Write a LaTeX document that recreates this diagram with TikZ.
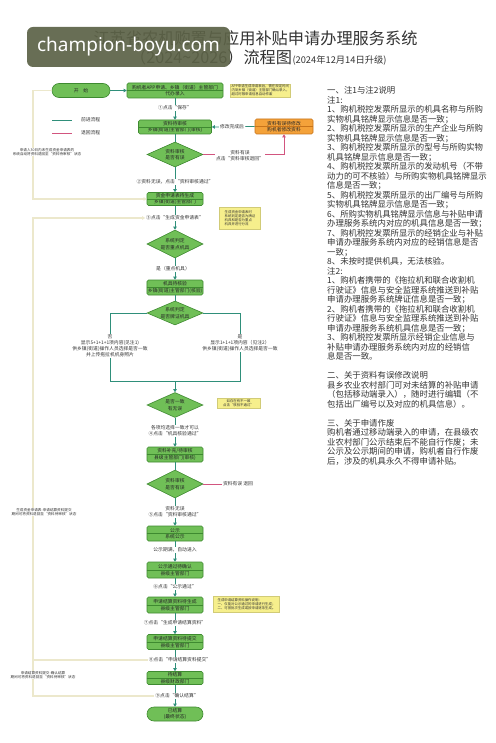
\documentclass[tikz,border=0pt]{standalone}
\usepackage{fontspec}
\newfontfamily\cjk{Noto Sans CJK SC}
\newfontfamily\wmfont{Noto Sans}
\usetikzlibrary{shapes.geometric,arrows.meta}
\definecolor{gfill}{HTML}{70BF57}
\definecolor{gline}{HTML}{3E8A30}
\definecolor{flowc}{HTML}{2F8F7A}
\definecolor{backc}{HTML}{D2557F}
\definecolor{ofill}{HTML}{F4A23A}
\definecolor{oline}{HTML}{C8741A}
\definecolor{noteY}{HTML}{F6EF8C}
\definecolor{pale}{HTML}{ECE8CC}
\definecolor{txt}{HTML}{333333}
\definecolor{wm}{HTML}{5C6247}
\tikzset{
  gbox/.style={draw=gline, fill=gfill, rounded corners=1.5pt, line width=0.6pt, minimum width=56pt, inner sep=0.8pt, align=center, font=\cjk\fontsize{4.8}{6.4}\selectfont, text=black!85},
  term/.style={gbox, rounded corners=7pt},
  gdia/.style={diamond, draw=gline, fill=gfill, line width=0.6pt, minimum width=56pt, minimum height=25pt, inner sep=0pt, aspect=2.2, align=center, font=\cjk\fontsize{4.8}{6.4}\selectfont, text=black!85},
  obox/.style={draw=oline, fill=ofill, rounded corners=1.5pt, line width=0.6pt, minimum width=58pt, minimum height=15pt, inner sep=0.8pt, align=center, font=\cjk\fontsize{4.8}{6.4}\selectfont, text=black!85},
  lbl/.style={fill=white, inner sep=0.8pt, align=center, font=\cjk\fontsize{4.8}{6}\selectfont, text=txt},
  sidelbl/.style={fill=white, inner sep=0.6pt, align=center, font=\cjk\fontsize{3.6}{4.4}\selectfont, text=txt},
  note/.style={fill=noteY, draw=noteY!85!black, line width=0.3pt, inner sep=1pt, align=left, font=\cjk\fontsize{3.4}{4.1}\selectfont, text=txt},
  flow/.style={draw=flowc, line width=0.7pt, -{Triangle[length=3pt,width=3.4pt]}},
  flowline/.style={draw=flowc, line width=0.7pt},
  back/.style={draw=backc, line width=0.7pt},
  loopl/.style={draw=pale, line width=1.2pt},
}
\begin{document}
\begin{tikzpicture}[x=1pt,y=-1pt]
\fill[white] (0,0) rectangle (495,743);
\useasboundingbox (0,0) rectangle (495,743);

% title
\node[font=\cjk\fontsize{16.2}{18}\selectfont, text=txt, inner sep=0] (t1) at (255.5,38) {江苏省农机购置与应用补贴申请办理服务系统};
\node[font=\cjk\fontsize{16.2}{18}\selectfont, text=txt, inner sep=0, anchor=base west] (t2) at (130,64) {（2024\textasciitilde 2026）流程图};
\node[font=\cjk\fontsize{9.3}{11}\selectfont, text=txt, inner sep=0, anchor=base west] (t3) at (t2.base east) {(2024年12月14日升级)};

% watermark
\node[fill=wm, fill opacity=0.92, text opacity=1, rounded corners=6pt, minimum width=203pt, minimum height=40pt, inner sep=0, text=white, font=\wmfont\fontsize{19}{22}\selectfont] (wmk) at (128.5,47) {champion-boyu.com};

% legend
\coordinate (lg1a) at (52,120); \coordinate (lg1b) at (72,120);
\coordinate (lg2a) at (52,133); \coordinate (lg2b) at (72,133);
\draw[flowline] (lg1a) -- (lg1b);
\draw[back] (lg2a) -- (lg2b);
\node[lbl, anchor=west] (lgt1) at (80,120) {前进流程};
\node[lbl, anchor=west] (lgt2) at (80,133) {退回流程};

% main nodes
\node[term, minimum width=58pt, minimum height=14pt] (start) at (81,90.5) {开\quad 始};
\node[gbox, minimum width=96pt, minimum height=15pt] (b1) at (175,90.5) {购机者APP申请、乡镇（街道）主管部门\\代办录入};
\node[note, minimum width=57pt, minimum height=13pt] (n1) at (260.5,90.5) {APP申请生成申请表后，需在规定时间\\内到乡镇（街道）主管部门确认录入，\\超过时限申请信息自动作废};

\node[gbox, minimum width=73pt, minimum height=14pt] (b2) at (175,127) {资料待审核\\乡镇(街道)主管部门(审核)};
\node[obox] (ob) at (284,126.5) {资料有误待修改\\购机者修改资料};
\node[gdia] (d1) at (175,154.5) {资料审核\\是否有误};
\node[gbox, minimum height=13pt] (b3) at (175,199) {资金申请表待生成\\乡镇(街道)主管部门};
\node[note, minimum width=41pt, minimum height=22pt] (n2) at (240,218) {生成资金申请表时\\系统判定是否为牌证\\机具和是否为重点\\机具并进行分流};
\node[gdia, minimum height=28pt] (d2) at (175,244) {系统判定\\是否重点机具};
\node[gbox, minimum height=15pt] (b4) at (175,287.5) {机具待核验\\乡镇(街道)主管部门(核验)};
\node[gdia, minimum height=24pt] (d3) at (175,313) {系统判定\\是否牌证机具};
\node[gdia, minimum height=25pt] (d4) at (175,405) {是否一致\\有无误};
\node[note, minimum width=43pt, minimum height=10pt, align=center] (n3) at (238.5,403) {如存在有不一致\\点击“核验不通过”};
\node[gbox, minimum height=15pt] (b5) at (175,454.5) {资料补充/待审核\\县级主管部门(审核)};
\node[gdia, minimum height=28pt] (d5) at (175,484) {资料审核\\是否有误};
\node[gbox, minimum height=15pt] (b6) at (175,533.5) {公示\\系统公示};
\node[gbox, minimum height=16pt] (b7) at (175,570) {公示通过待确认\\县级主管部门};
\node[gbox, minimum height=16pt] (b8) at (175,605) {申请结算资料待生成\\县级主管部门};
\node[note, minimum width=66pt, minimum height=16pt] (n4) at (246.5,604) {生成申请结算资料操作说明：\\一、仅能对公示通过的申请进行生成；\\二、可按批次生成或按申请逐条生成。};
\node[gbox, minimum height=15pt] (b9) at (175,642) {申请结算资料待提交\\县级主管部门};
\node[gbox, minimum height=13pt] (b10) at (175,678) {待结算\\县级财政部门};
\node[term, minimum height=14pt] (end) at (175,714) {已结算\\(最终状态)};

% dividers
\foreach \n in {b1,b2,b3,b4,b5,b6,b7,b8,b9,b10}{\draw[gline, line width=0.5pt] (\n.west) -- (\n.east);}
\draw[oline, line width=0.5pt] (ob.west) -- (ob.east);

% main arrows
\draw[flow] (start.east) -- (b1.west);
\draw[flow] (b1.south) -- (b2.north);
\draw[flowline] (b2.south) -- (d1.north);
\draw[flow] (d1.south) -- (b3.north);
\draw[flow] (b3.south) -- (d2.north);
\draw[flow] (d2.south) -- (b4.north);
\draw[flowline] (b4.south) -- (d3.north);
\coordinate (jL) at (110,381); \coordinate (jR) at (240,381); \coordinate (jM) at (175,381);
\draw[flowline] (d3.west) -| (jL) -- (jM);
\draw[flowline] (d3.east) -| (jR) -- (jM);
\draw[flow] (jM) -- (d4.north);
\draw[flow] (d4.south) -- (b5.north);
\draw[flowline] (b5.south) -- (d5.north);
\draw[flow] (d5.south) -- (b6.north);
\draw[flow] (b6.south) -- (b7.north);
\draw[flow] (b7.south) -- (b8.north);
\draw[flow] (b8.south) -- (b9.north);
\draw[flow] (b9.south) -- (b10.north);
\draw[flow] (b10.south) -- (end.north);
\draw[flow] (ob.west) -- (b2.east);
\draw[back, -{Triangle[length=3pt,width=3.4pt]}] (d1.east) -| (ob.south);
\coordinate (r5) at (222,484);
\draw[back] (d5.east) -- (r5);

% labels on lines
\node[lbl] (l1) at (175,108) {①点击“保存”};
\node[lbl] (lmod) at (232,127) {修改完成后};
\node[lbl] (lret) at (240,156) {资料有误\\点击“资料审核退回”};
\node[lbl] (l2) at (175,182) {②资料无误，点击“资料审核通过”};
\node[lbl] (l3) at (175,218) {③点击“生成资金申请表”};
\node[lbl] (l4) at (173,269) {是（重点机具）};
\node[lbl] (lL) at (110,346) {否\\显示5+1+1+1项内容(见注1)\\供乡镇(街道)操作人员选择是否一致\\并上传拖拉机机身照片};
\node[lbl] (lR) at (240,343) {是\\显示1+1+1项内容（见注2）\\供乡镇(街道)操作人员选择是否一致};
\node[lbl] (l5) at (175,431) {各项均选择一致才可以\\④点击“机具核验通过”};
\node[lbl, anchor=west] (l5r) at (r5) {资料有误 退回};
\node[lbl] (l6) at (175,512) {资料无误\\⑤点击“资料审核通过”};
\node[lbl] (l7) at (175,550) {公示期满，自动进入};
\node[lbl] (l8) at (175,587) {⑥点击“公示通过”};
\node[lbl] (l9) at (175,623) {⑦点击“生成申请结算资料”};
\node[lbl] (l10) at (180,660) {⑧点击“申请结算资料提交”};
\node[lbl] (l11) at (177,696) {⑨点击“确认结算”};

% left loops
\coordinate (pA1) at (33,90.5); \coordinate (pA2) at (33,199);
\draw[loopl, -{Triangle[length=3pt,width=3.4pt]}] (start.west) -- (pA1) -- (pA2) -- (b3.west);
\coordinate (pB1) at (33,660); \coordinate (pB2) at (33,218);
\draw[loopl, -{Triangle[length=3pt,width=3.4pt]}] (l10.west) -- (pB1) -- (pB2) -- (l3.west);
\coordinate (pC1) at (33,696);
\draw[loopl] (l11.west) -- (pC1) -- (pB1);
\node[sidelbl] (sA) at (47,152) {申请人30日内未生成资金申请表的\\系统自动将资料退回至“资料待审核”状态};
\node[sidelbl] (sB) at (44,512) {生成资金申请表-申请结算资料提交\\期间可将资料退回至“资料待审核”状态};
\node[sidelbl] (sC) at (43,675) {申请结算资料提交-确认结算\\期间可将资料退回至“资料待审核”状态};

% right text panel
\node[anchor=north west, inner sep=0, align=left, text=txt, font=\cjk\fontsize{8.4}{9.5}\selectfont] (panel) at (327,86.5) {%
一、注1与注2说明\\
注1:\\
1、购机税控发票所显示的机具名称与所购\\
实物机具铭牌显示信息是否一致；\\
2、购机税控发票所显示的生产企业与所购\\
实物机具铭牌显示信息是否一致；\\
3、购机税控发票所显示的型号与所购实物\\
机具铭牌显示信息是否一致；\\
4、购机税控发票所显示的发动机号（不带\\
动力的可不核验）与所购实物机具铭牌显示\\
信息是否一致；\\
5、购机税控发票所显示的出厂编号与所购\\
实物机具铭牌显示信息是否一致；\\
6、所购实物机具铭牌显示信息与补贴申请\\
办理服务系统内对应的机具信息是否一致；\\
7、购机税控发票所显示的经销企业与补贴\\
申请办理服务系统内对应的经销信息是否\\
一致；\\
8、未按时提供机具，无法核验。\\
注2:\\
1、购机者携带的《拖拉机和联合收割机\\
行驶证》信息与安全监理系统推送到补贴\\
申请办理服务系统牌证信息是否一致；\\
2、购机者携带的《拖拉机和联合收割机\\
行驶证》信息与安全监理系统推送到补贴\\
申请办理服务系统机具信息是否一致；\\
3、购机税控发票所显示经销企业信息与\\
补贴申请办理服务系统内对应的经销信\\
息是否一致。\\
\mbox{}\\
二、关于资料有误修改说明\\
县乡农业农村部门可对未结算的补贴申请\\
（包括移动端录入），随时进行编辑（不\\
包括出厂编号以及对应的机具信息）。\\
\mbox{}\\
三、关于申请作废\\
购机者通过移动端录入的申请，在县级农\\
业农村部门公示结束后不能自行作废；未\\
公示及公示期间的申请，购机者自行作废\\
后，涉及的机具永久不得申请补贴。};
\end{tikzpicture}
\end{document}
